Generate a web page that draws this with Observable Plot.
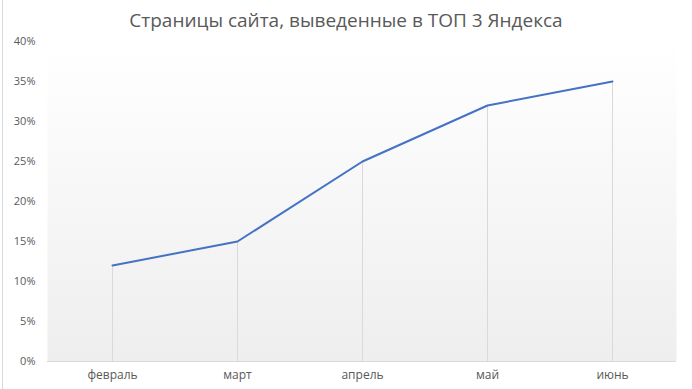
<!DOCTYPE html>
<html><head><meta charset="utf-8">
<script src="https://cdn.jsdelivr.net/npm/d3@7"></script>
<script src="https://cdn.jsdelivr.net/npm/@observablehq/plot@0.6"></script>
<style>
html,body{margin:0;padding:0;background:#fff;}
#wrap{position:relative;width:692px;height:389px;overflow:hidden;font-family:"Open Sans","Liberation Sans",sans-serif;}
#title{position:absolute;left:0;top:7px;width:692px;text-align:center;font-size:19px;color:#595959;}
#edge{position:absolute;left:2px;top:0;width:1px;height:389px;background:#d9d9d9;}
</style></head>
<body>
<div id="wrap"><div id="edge"></div><div id="title">Страницы сайта, выведенные в ТОП 3 Яндекса</div><div id="chart"></div></div>
<script>
const months = ["февраль", "март", "апрель", "май", "июнь"];
const shares = [0.12, 0.15, 0.25, 0.32, 0.35];
const yTicks = [0, 0.05, 0.10, 0.15, 0.20, 0.25, 0.30, 0.35, 0.40];

const data = months.map((m, i) => ({month: m, value: shares[i]}));

const defs = () => {
  const g = d3.create("svg:defs");
  const lg = g.append("linearGradient").attr("id", "bg").attr("x1", 0).attr("y1", 0).attr("x2", 0).attr("y2", 1);
  lg.append("stop").attr("offset", "0%").attr("stop-color", "#ffffff");
  lg.append("stop").attr("offset", "100%").attr("stop-color", "#eeeeee");
  return g.node();
};

const chart = Plot.plot({
  width: 692,
  height: 389,
  marginTop: 41,
  marginBottom: 28,
  marginLeft: 47,
  marginRight: 16,
  style: {fontFamily: "'Open Sans','Liberation Sans',sans-serif", fontSize: "11px", color: "#595959", background: "transparent"},
  x: {type: "point", domain: months, padding: 0.5, label: null, tickSize: 0, tickPadding: 9},
  y: {domain: [0, 0.4], ticks: yTicks, tickFormat: d3.format(".0%"), label: null, tickSize: 0, tickPadding: 12},
  marks: [
    defs,
    Plot.frame({fill: "url(#bg)", stroke: null}),
    Plot.ruleX(data, {x: "month", y1: 0, y2: "value", stroke: "#d9d9d9", strokeWidth: 1}),
    Plot.ruleY([0], {stroke: "#d9d9d9", strokeWidth: 1}),
    Plot.lineY(data, {x: "month", y: "value", stroke: "#4472c4", strokeWidth: 2}),
    Plot.axisX({fontSize: 12, tickSize: 0, tickPadding: 9, label: null})
  ]
});
document.getElementById("chart").appendChild(chart);
</script>
</body></html>
